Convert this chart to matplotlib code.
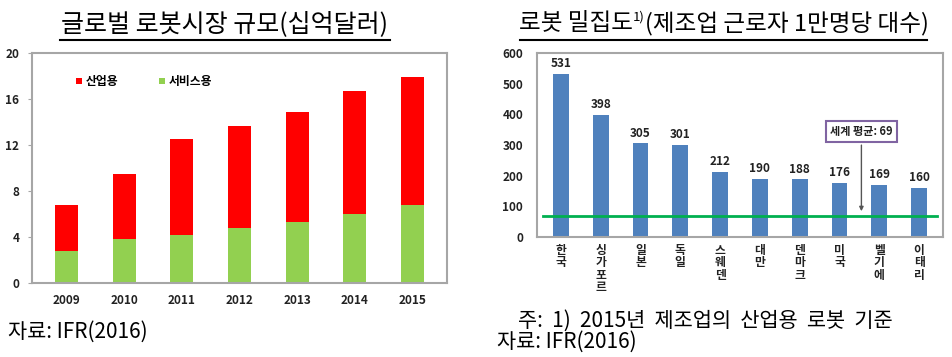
import matplotlib.pyplot as plt
from matplotlib.lines import Line2D

plt.rcParams['font.family'] = ['Noto Sans CJK KR', 'DejaVu Sans']

# Left: global robot market (billion USD)
years = ['2009', '2010', '2011', '2012', '2013', '2014', '2015']
service = [2.8, 3.8, 4.2, 4.8, 5.3, 6.0, 6.8]
industrial = [4.0, 5.7, 8.3, 8.85, 9.6, 10.7, 11.1]

# Right: robot density per 10,000 manufacturing workers
countries = ['한국', '싱가포르', '일본', '독일', '스웨덴', '대만', '덴마크', '미국', '벨기에', '이태리']
density = [531, 398, 305, 301, 212, 190, 188, 176, 169, 160]
world_avg = 69

W, H = 953, 357
fig = plt.figure(figsize=(W / 100, H / 100), dpi=100)


def box(x0, y0, x1, y1):
    # pixel box (top-left origin) -> figure fraction rect
    return [x0 / W, 1 - y1 / H, (x1 - x0) / W, (y1 - y0) / H]


frame_col = '#a6a6a6'
tick_col = '#222222'

# ---- left chart
ax1 = fig.add_axes(box(32, 53, 447, 283))
x = range(len(years))
ax1.bar(x, service, width=0.4, color='#92d050', label='서비스용')
ax1.bar(x, industrial, width=0.4, bottom=service, color='#ff0000', label='산업용')
ax1.set_ylim(0, 20)
ax1.set_xlim(-0.6, 6.6)
ax1.set_yticks([0, 4, 8, 12, 16, 20])
ax1.set_xticks(list(x))
ax1.set_xticklabels(years)
for lab in ax1.get_xticklabels() + ax1.get_yticklabels():
    lab.set_fontweight('bold')
    lab.set_fontsize(8.5)
    lab.set_color(tick_col)
ax1.tick_params(axis='x', length=0, pad=8)
ax1.tick_params(axis='y', length=3, color=frame_col, pad=6)
for s in ax1.spines.values():
    s.set_color(frame_col)
    s.set_linewidth(1.5)
h, l = ax1.get_legend_handles_labels()
ax1.legend(h[::-1], l[::-1], loc='upper left', bbox_to_anchor=(0.08, 0.95),
           ncol=2, frameon=False, handlelength=0.5, handleheight=0.5,
           columnspacing=3.5, handletextpad=0.3,
           prop={'size': 8.5, 'weight': 'bold'})

# ---- right chart
ax2 = fig.add_axes(box(537, 53, 943, 237))
xs = range(len(countries))
ax2.bar(xs, density, width=0.4, color='#4f81bd')
for i, v in enumerate(density):
    ax2.text(i, v + 12, str(v), ha='center', va='bottom', fontsize=8.5,
             fontweight='bold', color=tick_col)
ax2.plot([-0.45, len(countries) - 0.55], [world_avg, world_avg], color='#00b050', lw=2)
ax2.set_ylim(0, 600)
ax2.set_xlim(-0.6, len(countries) - 0.4)
ax2.set_yticks(range(0, 601, 100))
ax2.set_xticks(list(xs))
ax2.set_xticklabels(['\n'.join(c) for c in countries], linespacing=0.95)
for lab in ax2.get_xticklabels() + ax2.get_yticklabels():
    lab.set_fontweight('bold')
    lab.set_fontsize(8.5)
    lab.set_color(tick_col)
ax2.tick_params(axis='x', length=0, pad=5)
ax2.tick_params(axis='y', length=0, pad=10)
for s in ax2.spines.values():
    s.set_color(frame_col)
    s.set_linewidth(1.5)
ax2.annotate('세계 평균: 69', xy=(7.55, world_avg + 6), xytext=(7.55, 345),
             ha='center', va='center', fontsize=8, fontweight='bold', color=tick_col,
             bbox=dict(boxstyle='square,pad=0.35', fc='white', ec='#8064a2', lw=1.5),
             arrowprops=dict(arrowstyle='-|>', color='#555555', lw=1, mutation_scale=6))

# ---- titles with underline
fig.text(225 / W, 1 - 24 / H, '글로벌 로봇시장 규모(십억달러)', ha='center', va='center',
         fontsize=18)
fig.add_artist(Line2D([60 / W, 390 / W], [1 - 40 / H] * 2, color='black', lw=1.5))

# right title built from pieces so the footnote mark can be small
renderer = fig.canvas.get_renderer()
parts = [('로봇 밀집도', 17, 0), ('1)', 9.5, 7), ('(제조업 근로자 1만명당 대수)', 17, 0)]
widths = []
for s, fs, dy in parts:
    t = fig.text(0, 0, s, fontsize=fs)
    widths.append(t.get_window_extent(renderer).width)
    t.remove()
xpos = 724 - sum(widths) / 2
for (s, fs, dy), w in zip(parts, widths):
    fig.text(xpos / W, 1 - (24 - dy) / H, s, ha='left', va='center', fontsize=fs)
    xpos += w
fig.add_artist(Line2D([520 / W, 927 / W], [1 - 40 / H] * 2, color='black', lw=1.5))

# ---- footnotes
fig.text(8 / W, 1 - 332 / H, '자료: IFR(2016)', ha='left', va='center', fontsize=15)
fig.text(518 / W, 1 - 321 / H, '주:  1)  2015년  제조업의  산업용  로봇  기준', ha='left',
         va='center', fontsize=15)
fig.text(497 / W, 1 - 342 / H, '자료: IFR(2016)', ha='left', va='center', fontsize=15)

fig.savefig('out.png', dpi=100)
